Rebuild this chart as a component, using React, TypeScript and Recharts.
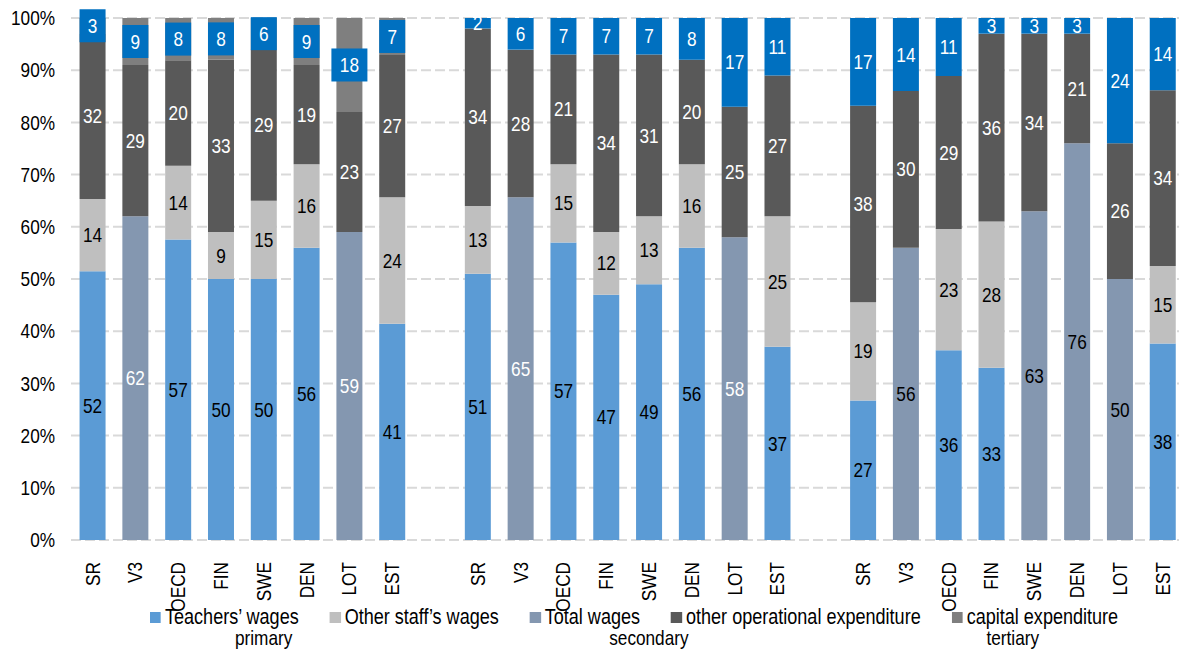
import { BarChart, Bar, XAxis, YAxis, CartesianGrid, LabelList } from "recharts";

// shares of current expenditure (%) by country, per level of education
const categories = ["SR", "V3", "OECD", "FIN", "SWE", "DEN", "LOT", "EST"];
const groupNames = ["primary", "secondary", "tertiary"];

const teachersPrimary = [52, null, 57, 50, 50, 56, null, 41];
const teachersSecondary = [51, null, 57, 47, 49, 56, null, 37];
const teachersTertiary = [27, null, 36, 33, null, null, null, 38];

const otherStaffPrimary = [14, null, 14, 9, 15, 16, null, 24];
const otherStaffSecondary = [13, null, 15, 12, 13, 16, null, 25];
const otherStaffTertiary = [19, null, 23, 28, null, null, null, 15];

const totalWagesPrimary = [null, 62, null, null, null, null, 59, null];
const totalWagesSecondary = [null, 65, null, null, null, null, 58, null];
const totalWagesTertiary = [null, 56, null, null, 63, 76, 50, null];

const operationalPrimary = [32, 29, 20, 33, 29, 19, 23, 27];
const operationalSecondary = [34, 28, 21, 34, 31, 20, 25, 27];
const operationalTertiary = [38, 30, 29, 36, 34, 21, 26, 34];

const capitalPrimary = [3, 9, 8, 8, 6, 9, 18, 7];
const capitalSecondary = [2, 6, 7, 7, 7, 8, 17, 11];
const capitalTertiary = [17, 14, 11, 3, 3, 3, 24, 14];

const yTicks = [0, 0.1, 0.2, 0.3, 0.4, 0.5, 0.6, 0.7, 0.8, 0.9, 1];

// where the group caption sits (category slot within the group)
const groupLabelSlot = [4, 4, 3.5];

const legendItems = [
  { name: "Teachers’ wages", color: "#5B9BD5" },
  { name: "Other staff’s wages", color: "#BFBFBF" },
  { name: "Total wages", color: "#8497B0" },
  { name: "other operational expenditure", color: "#595959" },
  { name: "capital expenditure", color: "#7F7F7F" },
];

// no narrow face installed, so squeeze Liberation Sans horizontally
const FONT = '"Liberation Sans", Arial, sans-serif';
const SQUEEZE = 0.82;
const FS = 21;
const CHART_W = 1184;
const CHART_H = 650;
const Y_W = 71;
const PLOT_BOTTOM = 540;

type Row = {
  key: string;
  name: string;
  group: number;
  slot: number;
  teachers?: number | null;
  otherStaff?: number | null;
  totalWages?: number | null;
  totalWagesT?: number | null;
  operational?: number | null;
  capitalP?: number | null;
  capitalS?: number | null;
};

const teachersAll = [teachersPrimary, teachersSecondary, teachersTertiary];
const otherStaffAll = [otherStaffPrimary, otherStaffSecondary, otherStaffTertiary];
const totalWagesAll = [totalWagesPrimary, totalWagesSecondary, totalWagesTertiary];
const operationalAll = [operationalPrimary, operationalSecondary, operationalTertiary];
const capitalAll = [capitalPrimary, capitalSecondary, capitalTertiary];

const rows: Row[] = [];
groupNames.forEach((g, gi) => {
  categories.forEach((c, i) => {
    rows.push({
      key: `${g}-${c}`,
      name: c,
      group: gi,
      slot: i,
      teachers: teachersAll[gi][i],
      otherStaff: otherStaffAll[gi][i],
      // tertiary total wages carry dark labels, kept as its own series
      totalWages: gi < 2 ? totalWagesAll[gi][i] : null,
      totalWagesT: gi === 2 ? totalWagesAll[gi][i] : null,
      operational: operationalAll[gi][i],
      // primary capital is grey with boxed labels, the others are blue
      capitalP: gi === 0 ? capitalAll[gi][i] : null,
      capitalS: gi > 0 ? capitalAll[gi][i] : null,
    });
  });
  if (gi < groupNames.length - 1) rows.push({ key: `gap-${gi}`, name: "", group: -1, slot: -1 });
});

const band = (CHART_W - Y_W) / rows.length;

const NarrowText = ({ x, y, anchor = "middle", fill = "#000", rotate = 0, children }: any) => (
  <g transform={`translate(${x},${y}) rotate(${rotate}) scale(${SQUEEZE},1)`}>
    <text x={0} y={0} textAnchor={anchor} dominantBaseline="central" fill={fill} fontSize={FS} fontFamily={FONT}>
      {children}
    </text>
  </g>
);

const makeLabel = (color: string, boxed = false) => (props: any) => {
  const { x, y, width, height, value } = props;
  if (value == null || value === "") return null;
  const cx = Number(x) + Number(width) / 2;
  const cy = Number(y) + Number(height) / 2;
  const w = String(value).length > 1 ? 36 : 26;
  return (
    <g>
      {boxed && <rect x={cx - w / 2} y={cy - 16.5} width={w} height={33} fill="#0070C0" />}
      <NarrowText x={cx} y={cy} fill={color}>
        {value}
      </NarrowText>
    </g>
  );
};

const XTick = (props: any) => {
  const { x, payload } = props;
  const row = rows[payload.index];
  if (!row || !row.name) return null;
  const slot = groupLabelSlot[row.group];
  const showGroup = row.slot === Math.floor(slot);
  return (
    <g>
      <NarrowText x={x} y={PLOT_BOTTOM + 22} rotate={-90} anchor="end">
        {row.name}
      </NarrowText>
      {showGroup && (
        <NarrowText x={x + (slot - Math.floor(slot)) * band} y={PLOT_BOTTOM + 98}>
          {groupNames[row.group]}
        </NarrowText>
      )}
    </g>
  );
};

const YTick = (props: any) => {
  const { x, y, payload } = props;
  return (
    <NarrowText x={x} y={y} anchor="end">
      {`${Math.round(payload.value * 100)}%`}
    </NarrowText>
  );
};

export default function App() {
  return (
    <div
      style={{
        position: "fixed",
        left: 0,
        top: 0,
        width: 1179,
        height: 650,
        overflow: "hidden",
        background: "#fff",
        fontFamily: FONT,
      }}
    >
      <BarChart
        width={CHART_W}
        height={CHART_H}
        data={rows}
        stackOffset="expand"
        barCategoryGap="20%"
        margin={{ top: 18, right: 0, left: 0, bottom: 0 }}
      >
        <CartesianGrid vertical={false} stroke="#D9D9D9" strokeWidth={2} strokeDasharray="10 4" />
        <XAxis
          dataKey="key"
          interval={0}
          height={110}
          axisLine={false}
          tickLine={false}
          tick={<XTick />}
        />
        <YAxis
          width={Y_W}
          domain={[0, 1]}
          ticks={yTicks}
          axisLine={false}
          tickLine={false}
          tickMargin={10}
          tick={<YTick />}
        />
        <Bar dataKey="teachers" stackId="a" fill="#5B9BD5" isAnimationActive={false}>
          <LabelList dataKey="teachers" content={makeLabel("#000")} />
        </Bar>
        <Bar dataKey="otherStaff" stackId="a" fill="#BFBFBF" isAnimationActive={false}>
          <LabelList dataKey="otherStaff" content={makeLabel("#000")} />
        </Bar>
        <Bar dataKey="totalWages" stackId="a" fill="#8497B0" isAnimationActive={false}>
          <LabelList dataKey="totalWages" content={makeLabel("#fff")} />
        </Bar>
        <Bar dataKey="totalWagesT" stackId="a" fill="#8497B0" isAnimationActive={false}>
          <LabelList dataKey="totalWagesT" content={makeLabel("#000")} />
        </Bar>
        <Bar dataKey="operational" stackId="a" fill="#595959" isAnimationActive={false}>
          <LabelList dataKey="operational" content={makeLabel("#fff")} />
        </Bar>
        <Bar dataKey="capitalP" stackId="a" fill="#7F7F7F" isAnimationActive={false}>
          <LabelList dataKey="capitalP" content={makeLabel("#fff", true)} />
        </Bar>
        <Bar dataKey="capitalS" stackId="a" fill="#0070C0" isAnimationActive={false}>
          <LabelList dataKey="capitalS" content={makeLabel("#fff")} />
        </Bar>
      </BarChart>
      <div
        style={{
          position: "absolute",
          left: 150,
          top: 605,
          display: "flex",
          gap: 31 / SQUEEZE,
          fontSize: 22,
          lineHeight: "24px",
          color: "#000",
          whiteSpace: "nowrap",
          transform: `scaleX(${SQUEEZE})`,
          transformOrigin: "left center",
        }}
      >
        {legendItems.map((it) => (
          <div key={it.name} style={{ display: "flex", alignItems: "center", gap: 4 / SQUEEZE }}>
            <span
              style={{ display: "inline-block", width: 11 / SQUEEZE, height: 11, background: it.color }}
            />
            <span>{it.name}</span>
          </div>
        ))}
      </div>
    </div>
  );
}
